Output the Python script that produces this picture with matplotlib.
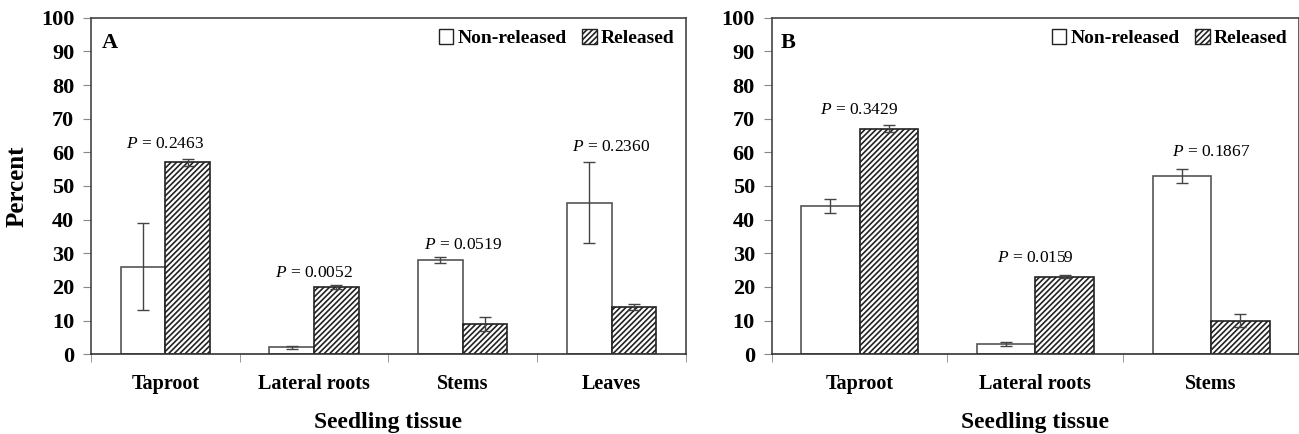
import matplotlib
matplotlib.use("Agg")
import matplotlib.pyplot as plt
import numpy as np
from matplotlib.patches import Patch

plt.rcParams['font.family'] = 'Liberation Serif'
plt.rcParams['mathtext.fontset'] = 'custom'
plt.rcParams['mathtext.rm'] = 'Liberation Serif'
plt.rcParams['mathtext.it'] = 'Liberation Serif:italic'
plt.rcParams['hatch.linewidth'] = 1.2

# panel A
cats_a = ["Taproot", "Lateral roots", "Stems", "Leaves"]
nonrel_a = [26, 2, 28, 45]
nonrel_err_a = [13, 0.5, 1, 12]
rel_a = [57, 20, 9, 14]
rel_err_a = [1, 0.5, 2, 1]
p_a = ["0.2463", "0.0052", "0.0519", "0.2360"]
p_y_a = [62.5, 24, 32.5, 61.5]

# panel B
cats_b = ["Taproot", "Lateral roots", "Stems"]
nonrel_b = [44, 3, 53]
nonrel_err_b = [2, 0.5, 2]
rel_b = [67, 23, 10]
rel_err_b = [1, 0.5, 2]
p_b = ["0.3429", "0.0159", "0.1867"]
p_y_b = [72.5, 28.5, 60]

edge = '#555555'

fig = plt.figure(figsize=(12.99, 4.34), dpi=100)
ax_a = fig.add_axes([0.070, 0.184, 0.458, 0.775])
ax_b = fig.add_axes([0.594, 0.184, 0.406, 0.775])


def panel(ax, cats, nr, nre, r, re, pv, py, w, letter):
    x = np.arange(len(cats))
    ax.bar(x - w / 2, nr, w, color='white', edgecolor=edge, linewidth=1.2)
    ax.bar(x + w / 2, r, w, color='white', edgecolor='#222222', hatch='//////', linewidth=1.2)
    ax.errorbar(x - w / 2, nr, yerr=nre, fmt='none', ecolor='#444444', elinewidth=1, capsize=4, capthick=1)
    ax.errorbar(x + w / 2, r, yerr=re, fmt='none', ecolor='#444444', elinewidth=1, capsize=4, capthick=1)
    for xi, p, yy in zip(x, pv, py):
        ax.text(xi, yy, r'$\it{P}$ = ' + p, ha='center', va='center', fontsize=12.5)
    ax.set_xlim(-0.5, len(cats) - 0.5)
    ax.set_ylim(0, 100)
    ax.set_yticks(np.arange(0, 101, 10))
    ax.set_xticks(x)
    ax.set_xticklabels(cats, fontsize=14.5, fontweight='bold')
    ax.set_xticks(np.arange(-0.5, len(cats), 1), minor=True)
    ax.tick_params(axis='x', which='major', length=0, pad=14)
    ax.tick_params(axis='x', which='minor', length=6, color='#888888', direction='out')
    ax.tick_params(axis='y', length=6, color='#888888', labelsize=16, pad=6)
    for lab in ax.get_yticklabels():
        lab.set_fontweight('bold')
    for s in ax.spines.values():
        s.set_color('#444444')
        s.set_linewidth(1.2)
    ax.spines['bottom'].set_color('#333333')
    ax.set_xlabel('Seedling tissue', fontsize=17, fontweight='bold', labelpad=13)
    ax.text(0.018, 0.925, letter, transform=ax.transAxes, fontsize=16, fontweight='bold',
            ha='left', va='center')
    handles = [Patch(facecolor='white', edgecolor='#222222', label='Non-released'),
               Patch(facecolor='white', edgecolor='#222222', hatch='//////', label='Released')]
    ax.legend(handles=handles, loc='upper right', ncol=2, frameon=False,
              prop={'family': 'Liberation Serif', 'weight': 'bold', 'size': 14},
              handlelength=0.75, handleheight=0.75, handletextpad=0.2, columnspacing=0.8,
              borderaxespad=0.2, bbox_to_anchor=(1.0, 1.0))


panel(ax_a, cats_a, nonrel_a, nonrel_err_a, rel_a, rel_err_a, p_a, p_y_a, 0.30, 'A')
panel(ax_b, cats_b, nonrel_b, nonrel_err_b, rel_b, rel_err_b, p_b, p_y_b, 0.333, 'B')
ax_a.set_ylabel('Percent', fontsize=18, fontweight='bold', labelpad=9)

fig.savefig('out.png', dpi=100)
